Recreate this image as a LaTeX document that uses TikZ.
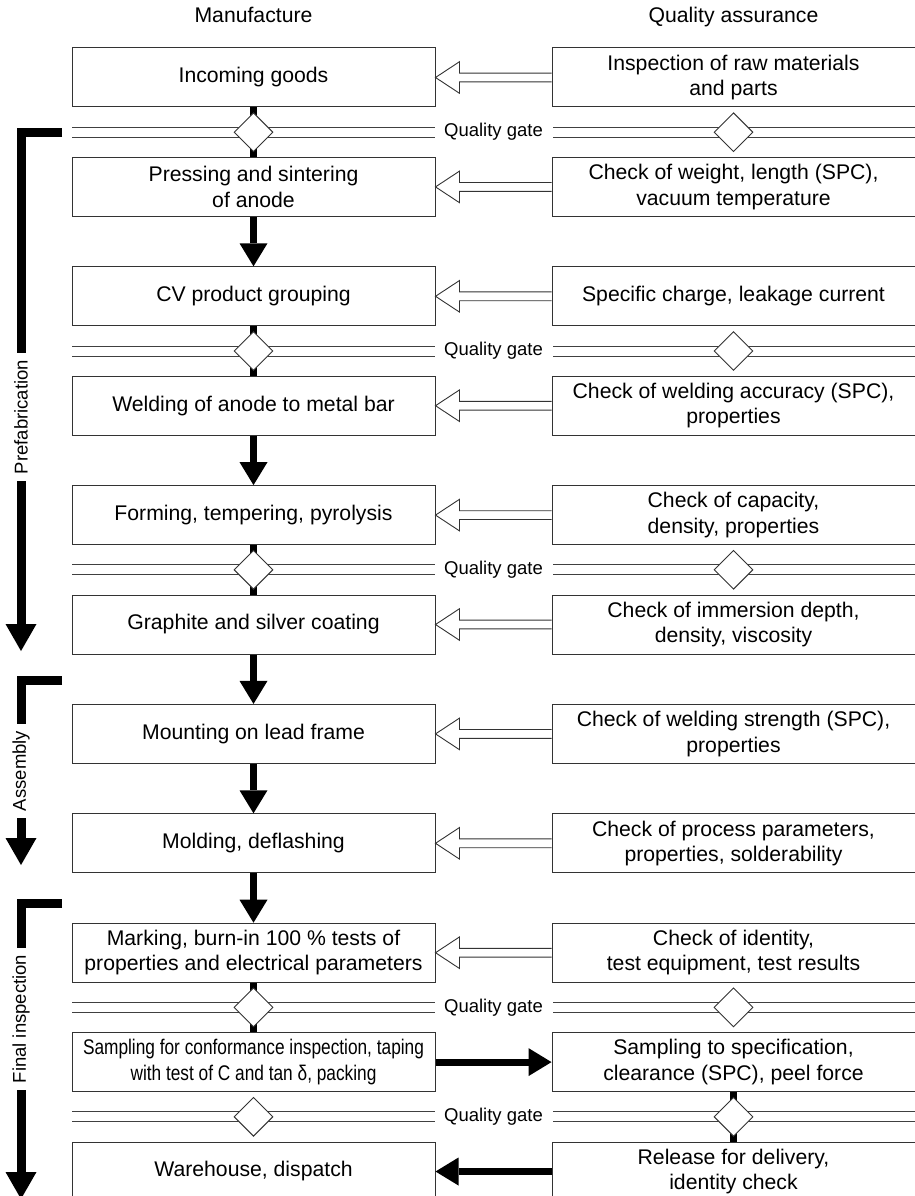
\documentclass[tikz,border=0pt]{standalone}
\usepackage{fontspec}
\setmainfont{Liberation Sans}
\usepackage{graphicx}
\usetikzlibrary{arrows.meta,shapes.geometric,calc}
\newcommand{\bigf}{\fontsize{21.2}{25.4}\selectfont}
\newcommand{\smlf}{\fontsize{18.5}{22}\selectfont}
\newcommand{\cond}[1]{\scalebox{0.815}[1]{#1}}
\begin{document}
\begin{tikzpicture}[x=1pt,y=-1pt,
 box/.style={draw=black!80,line width=1pt,minimum width=363pt,minimum height=59pt,inner sep=0pt,align=center,font=\bigf},
 hol/.style={draw=black!80,line width=0.9pt,fill=white,line join=miter},
 blk/.style={line width=7pt,-{Triangle[length=23pt,width=28pt,line width=0pt]}},
 bar/.style={line width=7pt},
 gline/.style={draw=black!75,line width=0.9pt},
 dia/.style={diamond,draw=black!80,line width=0.9pt,fill=white,minimum width=39pt,minimum height=39pt,inner sep=0pt},
 side/.style={line width=9pt,line join=miter},
 sidearr/.style={line width=9pt,-{Triangle[length=27pt,width=31pt,line width=0pt]}},
 sidelab/.style={font=\smlf,rotate=90,inner xsep=7pt,inner ysep=0pt},
 gatelab/.style={font=\smlf,inner sep=0pt},
 head/.style={font=\bigf,anchor=base}
]
\useasboundingbox (0,0) rectangle (915,1196);

% headers
\node[head] (h1) at (253.5,23) {Manufacture};
\node[head] (h2) at (733.5,23) {Quality assurance};

% manufacture boxes
\node[box] (m0) at (253.5,77.5) {Incoming goods};
\node[box] (m1) at (253.5,186.9) {Pressing and sintering\\of anode};
\node[box] (m2) at (253.5,296.3) {CV product grouping};
\node[box] (m3) at (253.5,405.7) {Welding of anode to metal bar};
\node[box] (m4) at (253.5,515.1) {Forming, tempering, pyrolysis};
\node[box] (m5) at (253.5,624.5) {Graphite and silver coating};
\node[box] (m6) at (253.5,733.9) {Mounting on lead frame};
\node[box] (m7) at (253.5,843.3) {Molding, deflashing};
\node[box] (m8) at (253.5,952.7) {Marking, burn-in 100 \% tests of\\properties and electrical parameters};
\node[box] (m9) at (253.5,1062.1) {\cond{Sampling for conformance inspection, taping}\\\cond{with test of C and tan δ, packing}};
\node[box] (m10) at (253.5,1171.5) {Warehouse, dispatch};

% quality boxes
\node[box] (q0) at (733.5,77.5) {Inspection of raw materials\\and parts};
\node[box] (q1) at (733.5,186.9) {Check of weight, length (SPC),\\vacuum temperature};
\node[box] (q2) at (733.5,296.3) {Specific charge, leakage current};
\node[box] (q3) at (733.5,405.7) {Check of welding accuracy (SPC),\\properties};
\node[box] (q4) at (733.5,515.1) {Check of capacity,\\density, properties};
\node[box] (q5) at (733.5,624.5) {Check of immersion depth,\\density, viscosity};
\node[box] (q6) at (733.5,733.9) {Check of welding strength (SPC),\\properties};
\node[box] (q7) at (733.5,843.3) {Check of process parameters,\\properties, solderability};
\node[box] (q8) at (733.5,952.7) {Check of identity,\\test equipment, test results};
\node[box] (q9) at (733.5,1062.1) {Sampling to specification,\\clearance (SPC), peel force};
\node[box] (q10) at (733.5,1171.5) {Release for delivery,\\identity check};

% quality gates: lines and labels
\foreach \g/\y in {0/132.2,2/351,4/569.8,8/1007.4,9/1116.8} {
  \draw[gline] (72,\y-5) -- (435,\y-5);
  \draw[gline] (72,\y+5) -- (435,\y+5);
  \draw[gline] (553,\y-5) -- (915,\y-5);
  \draw[gline] (553,\y+5) -- (915,\y+5);
  \node[gatelab] (gq\g) at (493.5,\y) {Quality gate};
}

% bars through gates
\draw[bar] (m0.south) -- (m1.north);
\draw[bar] (m2.south) -- (m3.north);
\draw[bar] (m4.south) -- (m5.north);
\draw[bar] (m8.south) -- (m9.north);
\draw[bar] (q9.south) -- (q10.north);

% diamonds
\foreach \g/\y in {0/132.2,2/351,4/569.8,8/1007.4,9/1116.8} {
  \node[dia] (gl\g) at (253.5,\y) {};
  \node[dia] (gr\g) at (733.5,\y) {};
}

% black flow arrows
\draw[blk] (m1.south) -- (m2.north);
\draw[blk] (m3.south) -- (m4.north);
\draw[blk] (m5.south) -- (m6.north);
\draw[blk] (m6.south) -- (m7.north);
\draw[blk] (m7.south) -- (m8.north);
\draw[blk] (m9.east) -- (q9.west);
\draw[blk] (q10.west) -- (m10.east);

% hollow arrows
\foreach \k in {0,...,8} {
  \draw[hol] ($(q\k.west)+(0,-4.4)$) -- ($(m\k.east)+(24,-4.4)$) -- ($(m\k.east)+(24,-15.8)$)
    -- (m\k.east) -- ($(m\k.east)+(24,15.8)$) -- ($(m\k.east)+(24,4.4)$) -- ($(q\k.west)+(0,4.4)$);
}

% side brackets
\coordinate (pfa) at (62,132.2);
\coordinate (pfb) at (21,132.2);
\coordinate (pfe) at (21,651);
\node[sidelab] (pf) at (21,417) {Prefabrication};
\draw[side] (pfa) -- (pfb) -- (pf.east);
\draw[sidearr] (pf.west) -- (pfe);

\coordinate (asa) at (62,680);
\coordinate (asb) at (21,680);
\coordinate (ase) at (21,865);
\node[sidelab] (as) at (21,771) {Assembly};
\draw[side] (asa) -- (asb) -- (as.east);
\draw[sidearr] (as.west) -- (ase);

\coordinate (fia) at (62,903.5);
\coordinate (fib) at (21,903.5);
\coordinate (fie) at (21,1199);
\node[sidelab] (fi) at (21,1019) {Final inspection};
\draw[side] (fia) -- (fib) -- (fi.east);
\draw[sidearr] (fi.west) -- (fie);
\end{tikzpicture}
\end{document}
